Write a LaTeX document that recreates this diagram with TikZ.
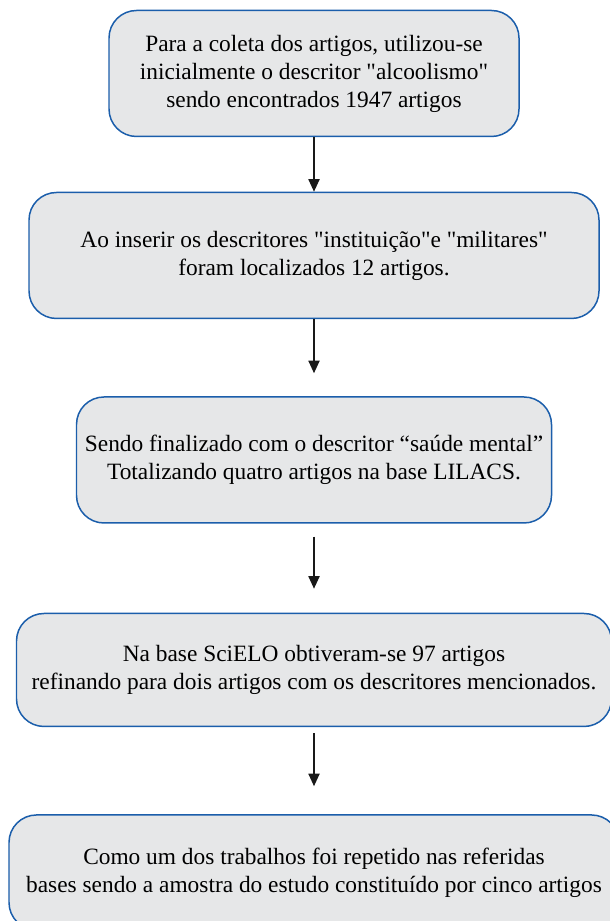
\documentclass[tikz,border=0pt]{standalone}
\usepackage{fontspec}
\setmainfont{Liberation Serif}
\usetikzlibrary{positioning,arrows.meta}

\definecolor{boxblue}{HTML}{1B5EAB}
\definecolor{boxgray}{HTML}{E6E7E8}

\tikzset{
  stepbox/.style={draw=boxblue, line width=0.85pt, fill=boxgray,
    rounded corners=0.55cm, align=center, minimum height=2.52cm,
    inner sep=2pt, font=\fontsize{13.3}{15.9}\selectfont},
  flow/.style={-{Triangle[length=0.25cm,width=0.22cm]}, line width=1pt, black!90}
}

\begin{document}
\begin{tikzpicture}
  \useasboundingbox (0,0) rectangle (12.18,18.42);

  % search steps
  \node[stepbox, minimum width=8.2cm] (coleta) at (6.28,16.95)
    {Para a coleta dos artigos, utilizou-se\\
     inicialmente o descritor \textquotedbl alcoolismo\textquotedbl\\
     sendo encontrados 1947 artigos};
  \node[stepbox, minimum width=11.4cm, below=1.09cm of coleta] (inserir)
    {Ao inserir os descritores \textquotedbl instituição\textquotedbl e \textquotedbl militares\textquotedbl\\
     foram localizados 12 artigos.};
  \node[stepbox, minimum width=9.5cm, below=1.54cm of inserir] (lilacs)
    {Sendo finalizado com o descritor “saúde mental”\\
     Totalizando quatro artigos na base LILACS.};
  \node[stepbox, minimum width=11.9cm, minimum height=2.26cm, below=1.78cm of lilacs] (scielo)
    {Na base SciELO obtiveram-se 97 artigos\\
     refinando para dois artigos com os descritores mencionados.};
  \node[stepbox, minimum width=12.2cm, minimum height=2.3cm, below=1.74cm of scielo] (amostra)
    {Como um dos trabalhos foi repetido nas referidas\\
     bases sendo a amostra do estudo constituído por cinco artigos};

  % arrows between steps
  \draw[flow] (coleta) -- (inserir);
  \draw[flow, shorten >=0.46cm] (inserir) -- (lilacs);
  \draw[flow, shorten <=0.26cm, shorten >=0.48cm] (lilacs) -- (scielo);
  \draw[flow, shorten <=0.12cm, shorten >=0.56cm] (scielo) -- (amostra);
\end{tikzpicture}
\end{document}
